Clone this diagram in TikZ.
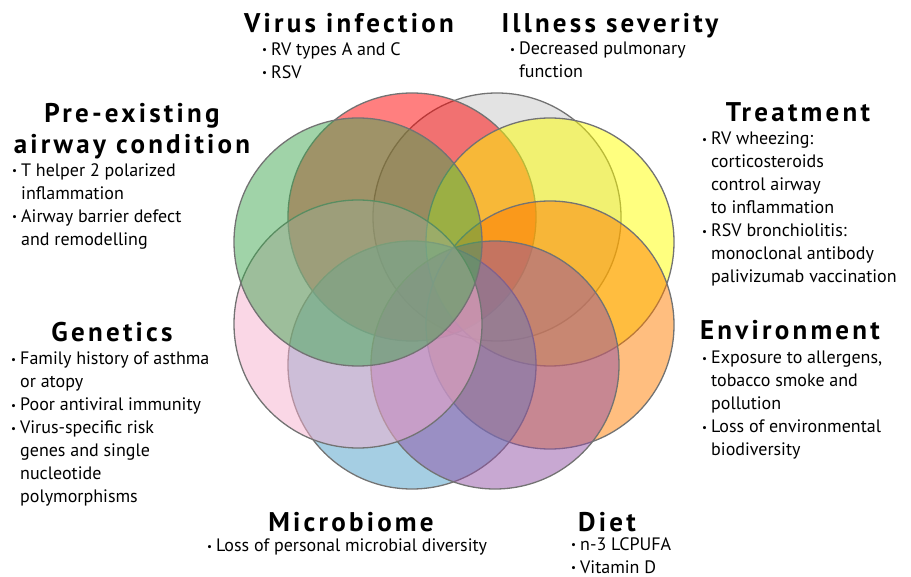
\documentclass[tikz,border=0pt]{standalone}
\usepackage{fontspec}
\setmainfont{PT Sans}
\newfontfamily\headfont[LetterSpace=12]{PT Sans}
\usepackage{tikz}

\definecolor{sevgray}{RGB}{199,199,199}
\definecolor{virred}{RGB}{255,0,0}
\definecolor{treyellow}{RGB}{255,255,0}
\definecolor{envorange}{RGB}{255,125,0}
\definecolor{micblue}{RGB}{75,157,199}
\definecolor{diepurple}{RGB}{145,81,165}
\definecolor{genpink}{RGB}{245,175,205}
\definecolor{pregreen}{RGB}{65,167,81}

\newcommand{\bul}{\makebox[9pt][l]{\raisebox{1.2pt}{\fontsize{11}{11}\selectfont\textbullet}}}
\newcommand{\ind}{\hspace*{9pt}}

\begin{document}
\begin{tikzpicture}[x=1pt,y=-1pt,
    petal/.style={draw=black!55, line width=1.3pt, fill=#1, fill opacity=0.5},
    heading/.style={font=\headfont\bfseries\fontsize{27}{31}\selectfont, inner sep=0pt, align=center},
    items/.style={font=\fontsize{18}{23}\selectfont, inner sep=0pt, align=left, anchor=north west}]
  \useasboundingbox (0,0) rectangle (911,577);
  % petal centres
  \coordinate (Sev) at (497,217);
  \coordinate (Vir) at (412,217);
  \coordinate (Tre) at (550,242);
  \coordinate (Env) at (550,325);
  \coordinate (Mic) at (412,365);
  \coordinate (Die) at (495,365);
  \coordinate (Gen) at (358,324);
  \coordinate (Pre) at (358,242);
  \foreach \c/\col in {Sev/sevgray, Vir/virred, Tre/treyellow, Env/envorange,
                       Mic/micblue, Die/diepurple, Gen/genpink, Pre/pregreen}
    \filldraw[petal=\col] (\c) circle[radius=124pt];

  % headings
  \node[heading, anchor=base] (virus) at (349,33) {Virus infection};
  \node[heading, anchor=base] (severity) at (610,33) {Illness severity};
  \node[heading, anchor=north] (preexist) at (132,103) {Pre-existing\\airway condition};
  \node[heading, anchor=base] (treatment) at (798,122) {Treatment};
  \node[heading, anchor=base] (genetics) at (112,342) {Genetics};
  \node[heading, anchor=base] (environment) at (790,340) {Environment};
  \node[heading, anchor=base] (microbiome) at (351,531) {Microbiome};
  \node[heading, anchor=base] (diet) at (607,531) {Diet};

  % bullet lists
  \node[items] (virusl) at (262,42) {\bul RV types A and C\\\bul RSV};
  \node[items] (severityl) at (510,42) {\bul Decreased pulmonary\\\ind function};
  \node[items] (preexistl) at (12,163) {\bul T helper 2 polarized\\\ind inflammation\\
    \bul Airway barrier defect\\\ind and remodelling};
  \node[items] (treatmentl) at (702,132) {\bul RV wheezing:\\\ind corticosteroids\\
    \ind control airway\\\ind to inflammation\\\bul RSV bronchiolitis:\\
    \ind monoclonal antibody\\\ind palivizumab vaccination};
  \node[items] (geneticsl) at (11,352) {\bul Family history of asthma\\\ind or atopy\\
    \bul Poor antiviral immunity\\\bul Virus-specific risk\\\ind genes and single\\
    \ind nucleotide\\\ind polymorphisms};
  \node[items] (environmentl) at (702,351) {\bul Exposure to allergens,\\
    \ind tobacco smoke and\\\ind pollution\\\bul Loss of environmental\\\ind biodiversity};
  \node[items] (microbiomel) at (207,539) {\bul Loss of personal microbial diversity};
  \node[items] (dietl) at (571,537) {\bul n-3 LCPUFA\\\bul Vitamin D};
\end{tikzpicture}
\end{document}
